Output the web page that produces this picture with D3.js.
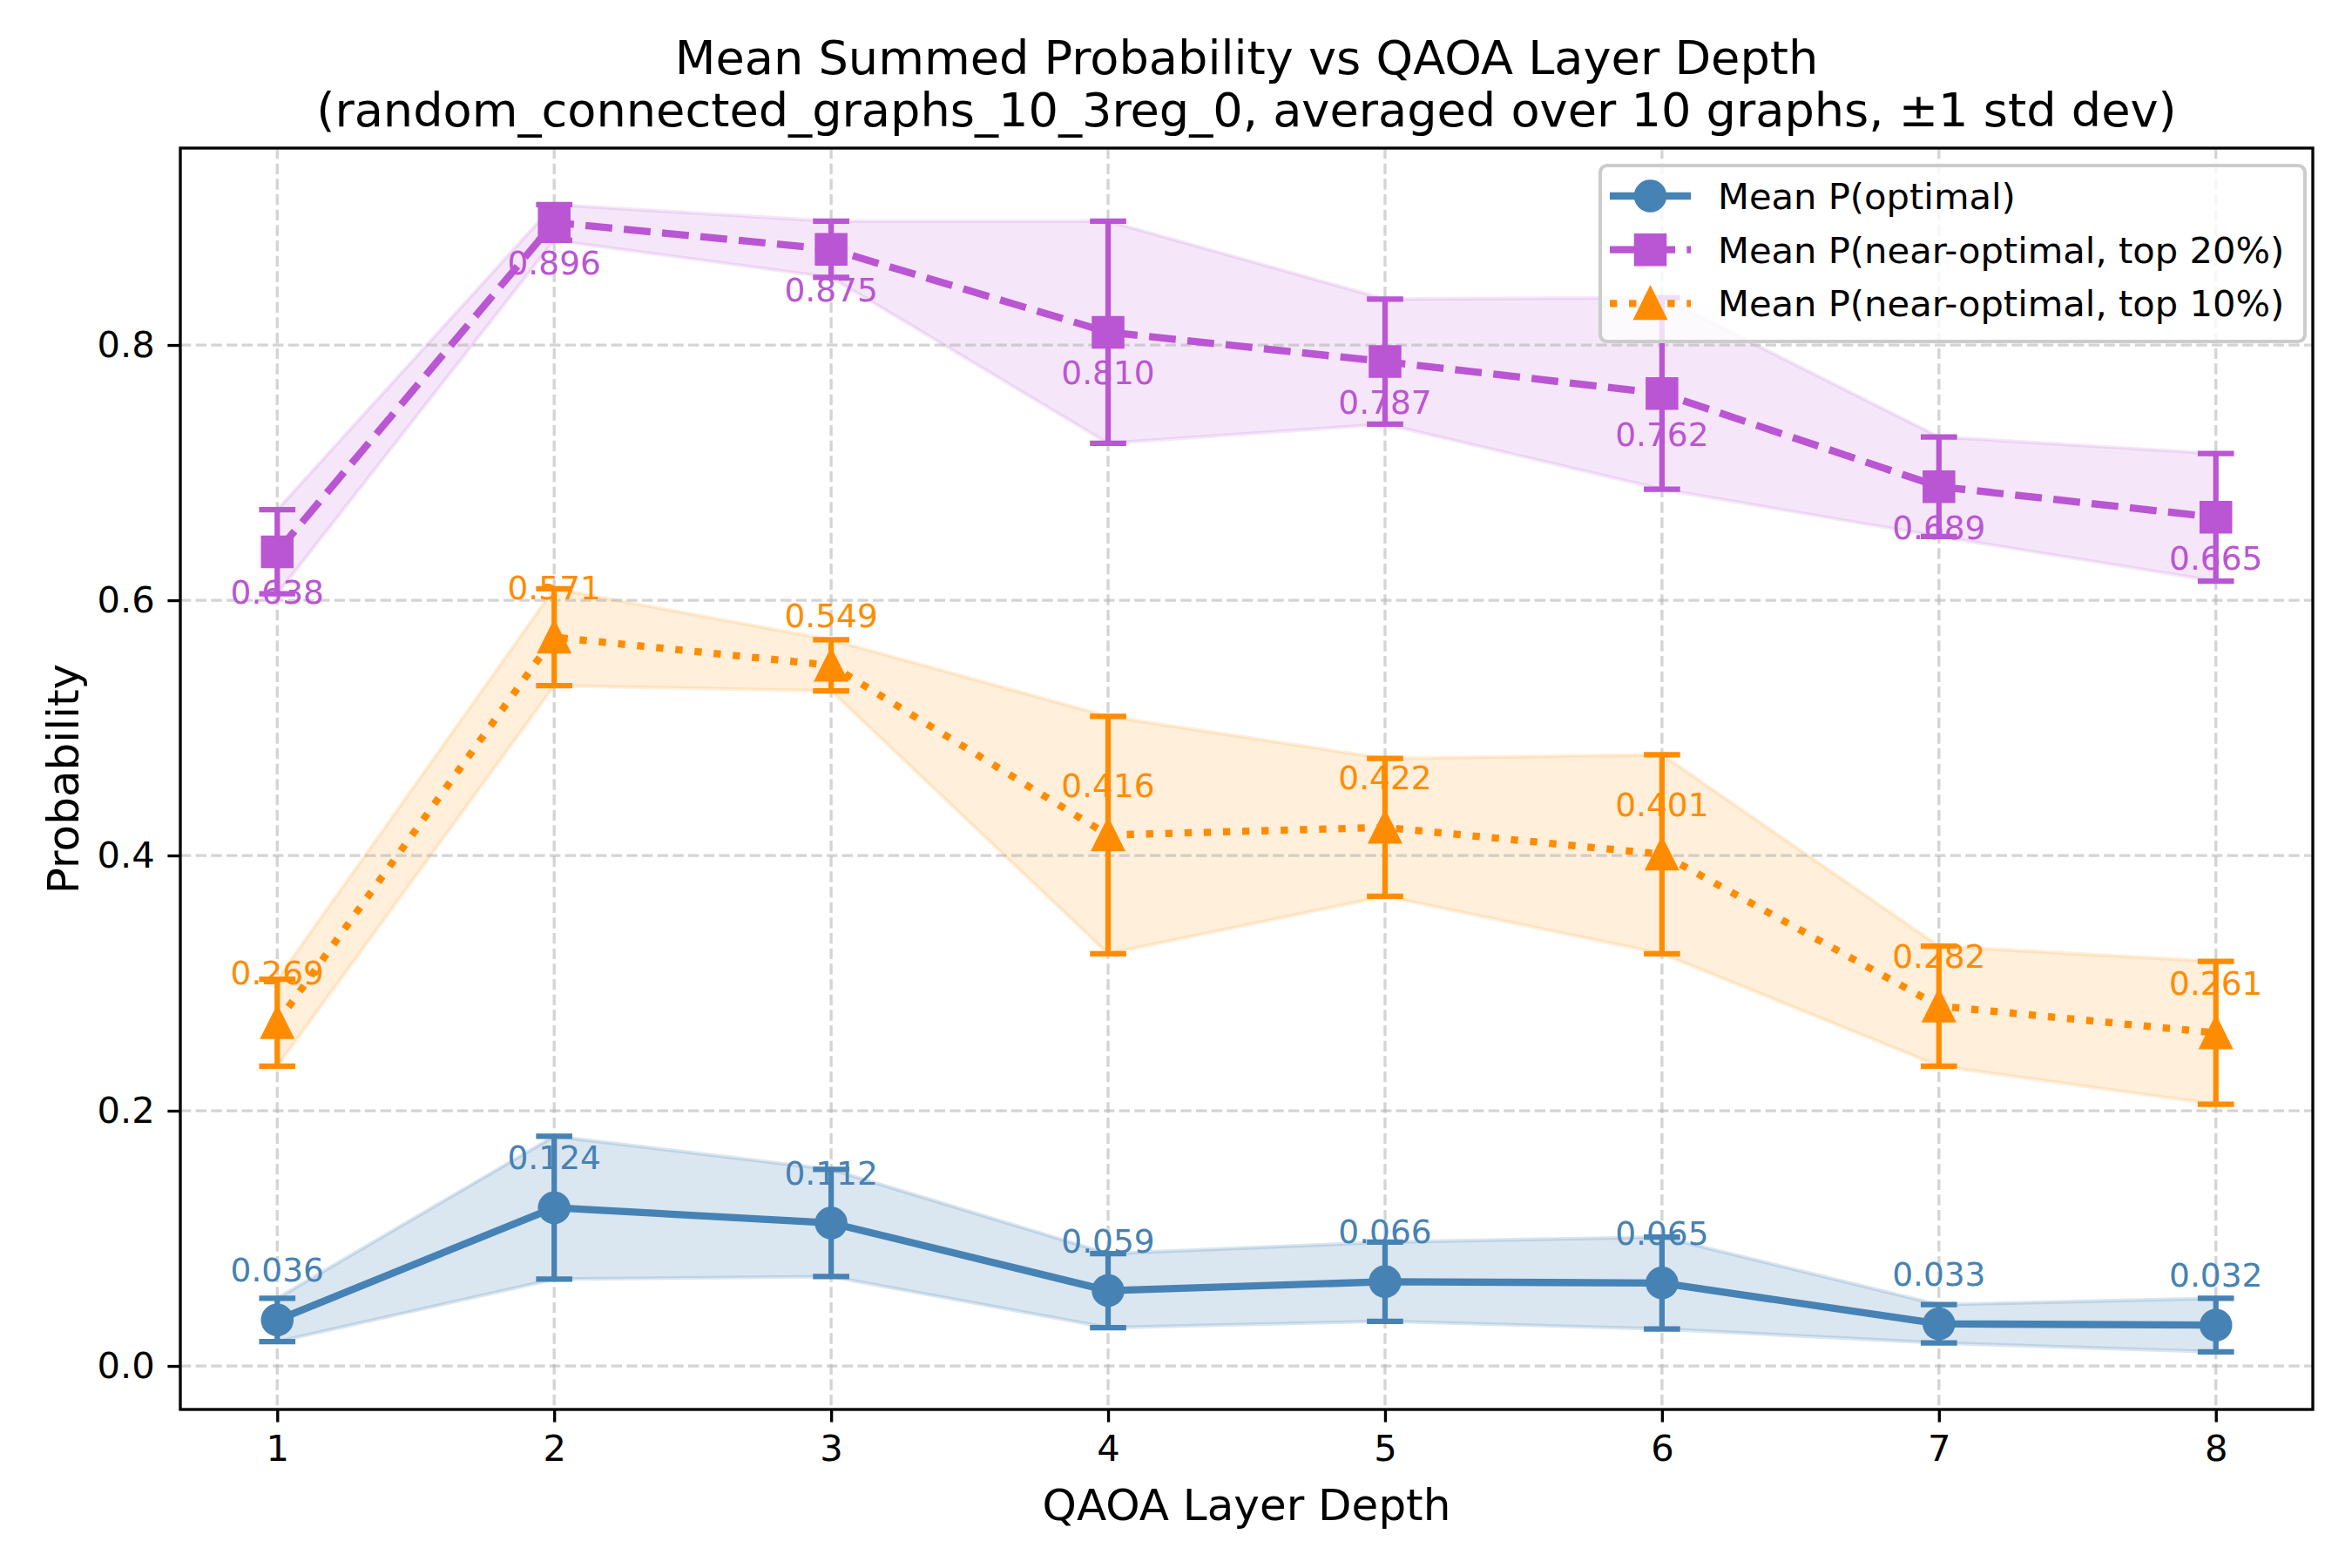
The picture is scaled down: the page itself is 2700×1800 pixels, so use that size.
<!DOCTYPE html>
<html>
<head>
<meta charset="utf-8">
<script src="https://cdn.jsdelivr.net/npm/d3@7"></script>
<style>
  body { margin: 0; background: #fff; }
  text { font-family: "DejaVu Sans", sans-serif; }
</style>
</head>
<body>
<div id="chart-area"></div>
<script>
// DATA
// ****
const depths = [1, 2, 3, 4, 5, 6, 7, 8]
const meanOptimal = [0.036, 0.124, 0.112, 0.059, 0.066, 0.065, 0.033, 0.032]
const stdOptimal = [0.017, 0.056, 0.042, 0.029, 0.031, 0.036, 0.015, 0.021]
const meanTop20 = [0.638, 0.896, 0.875, 0.810, 0.787, 0.762, 0.689, 0.665]
const stdTop20 = [0.033, 0.014, 0.022, 0.087, 0.049, 0.075, 0.039, 0.050]
const meanTop10 = [0.269, 0.571, 0.549, 0.416, 0.422, 0.401, 0.282, 0.261]
const stdTop10 = [0.034, 0.038, 0.020, 0.093, 0.054, 0.078, 0.047, 0.056]
const yTicks = [0.0, 0.2, 0.4, 0.6, 0.8]
const seriesNames = ["Mean P(optimal)", "Mean P(near-optimal, top 20%)", "Mean P(near-optimal, top 10%)"]

const PT = 300 / 72  // figure was 300 dpi

const series = [
  { name: seriesNames[0], mean: meanOptimal, std: stdOptimal, color: "#4682b4", fillAlpha: 0.2, dash: null, marker: "circle", labelBelow: false },
  { name: seriesNames[1], mean: meanTop20, std: stdTop20, color: "#ba55d3", fillAlpha: 0.14, dash: [3.7 * 2 * PT, 1.6 * 2 * PT], marker: "square", labelBelow: true },
  { name: seriesNames[2], mean: meanTop10, std: stdTop10, color: "#ff8c00", fillAlpha: 0.14, dash: [1 * 2 * PT, 1.65 * 2 * PT], marker: "triangle", labelBelow: false }
]

const W = 2700, H = 1800
const mLeft = 207, mRight = 2655, mTop = 170, mBottom = 1618

const svg = d3.select("#chart-area").append("svg").attr("width", W).attr("height", H)
svg.append("rect").attr("width", W).attr("height", H).attr("fill", "#fff")

// SCALES
const x = d3.scaleLinear().domain([0.65, 8.35]).range([mLeft, mRight])
const y = d3.scaleLinear().domain([-0.0341, 0.9543]).range([mBottom, mTop])

const lw = 2 * PT
const ms = 8 * PT

function markerPath(type, size) {
  if (type === "circle") return d3.symbol().type(d3.symbolCircle).size(Math.PI * (size / 2) ** 2)()
  if (type === "square") { const h = size / 2; return `M${-h},${-h}H${h}V${h}H${-h}Z` }
  const h = size / 2
  return `M0,${-h}L${h},${h}L${-h},${h}Z`
}

// FILL BANDS (below grid)
const area = d3.area()
  .x((d, i) => x(depths[i]))
  .y0(d => y(d[0]))
  .y1(d => y(d[1]))

series.forEach(s => {
  const band = s.mean.map((m, i) => [m - s.std[i], m + s.std[i]])
  svg.append("path")
    .datum(band)
    .attr("d", area)
    .attr("fill", s.color).attr("fill-opacity", s.fillAlpha)
    .attr("stroke", s.color).attr("stroke-opacity", s.fillAlpha).attr("stroke-width", PT)
})

// GRID
const grid = svg.append("g")
grid.selectAll(".gx").data(depths).enter().append("line")
  .attr("x1", d => x(d)).attr("x2", d => x(d)).attr("y1", mTop).attr("y2", mBottom)
grid.selectAll(".gy").data(yTicks).enter().append("line")
  .attr("x1", mLeft).attr("x2", mRight).attr("y1", d => y(d)).attr("y2", d => y(d))
grid.selectAll("line")
  .attr("stroke", "#b0b0b0").attr("stroke-opacity", 0.55)
  .attr("stroke-width", 0.8 * PT)
  .attr("stroke-dasharray", `${2.96 * PT},${1.28 * PT}`)

// LINES, ERROR BARS, MARKERS
const line = d3.line().x((d, i) => x(depths[i])).y(d => y(d))
const capHalf = 5 * PT

series.forEach(s => {
  const g = svg.append("g")
  g.append("path").datum(s.mean).attr("d", line)
    .attr("fill", "none").attr("stroke", s.color).attr("stroke-width", lw)
    .attr("stroke-dasharray", s.dash ? s.dash.join(",") : null)
    .attr("stroke-linecap", "butt").attr("stroke-linejoin", "round")

  const eb = g.selectAll(".eb").data(s.mean).enter().append("g")
  eb.append("line")
    .attr("x1", (d, i) => x(depths[i])).attr("x2", (d, i) => x(depths[i]))
    .attr("y1", (d, i) => y(d - s.std[i])).attr("y2", (d, i) => y(d + s.std[i]))
  eb.append("line")
    .attr("x1", (d, i) => x(depths[i]) - capHalf).attr("x2", (d, i) => x(depths[i]) + capHalf)
    .attr("y1", (d, i) => y(d + s.std[i])).attr("y2", (d, i) => y(d + s.std[i]))
  eb.append("line")
    .attr("x1", (d, i) => x(depths[i]) - capHalf).attr("x2", (d, i) => x(depths[i]) + capHalf)
    .attr("y1", (d, i) => y(d - s.std[i])).attr("y2", (d, i) => y(d - s.std[i]))
  eb.selectAll("line").attr("stroke", s.color).attr("stroke-width", 1.5 * PT)

  g.selectAll(".mk").data(s.mean).enter().append("path")
    .attr("d", markerPath(s.marker, ms))
    .attr("transform", (d, i) => `translate(${x(depths[i])},${y(d)})`)
    .attr("fill", s.color).attr("stroke", s.color).attr("stroke-width", PT)
})

// VALUE LABELS
series.forEach(s => {
  svg.append("g").selectAll("text").data(s.mean).enter().append("text")
    .attr("x", (d, i) => x(depths[i]))
    .attr("y", d => s.labelBelow ? y(d) + 60 : y(d) - 44)
    .attr("text-anchor", "middle")
    .attr("font-size", 9 * PT)
    .attr("fill", s.color)
    .text(d => d.toFixed(3))
})

// AXES
const xAxis = d3.axisBottom(x).tickValues(depths).tickSize(3.5 * PT).tickPadding(3.5 * PT).tickFormat(d3.format("d"))
const yAxis = d3.axisLeft(y).tickValues(yTicks).tickSize(3.5 * PT).tickPadding(3.5 * PT).tickFormat(d3.format(".1f"))

const gx = svg.append("g").attr("transform", `translate(0,${mBottom})`).call(xAxis)
const gy = svg.append("g").attr("transform", `translate(${mLeft},0)`).call(yAxis)
;[gx, gy].forEach(a => {
  a.select(".domain").remove()
  a.selectAll(".tick line").attr("stroke", "#000").attr("stroke-width", 0.8 * PT)
  a.selectAll(".tick text").attr("font-size", 10 * PT).attr("fill", "#000")
    .attr("font-family", "DejaVu Sans, sans-serif")
})

// spines
svg.append("rect")
  .attr("x", mLeft).attr("y", mTop).attr("width", mRight - mLeft).attr("height", mBottom - mTop)
  .attr("fill", "none").attr("stroke", "#000").attr("stroke-width", 0.8 * PT)

// LABELS AND TITLE
svg.append("text").attr("x", (mLeft + mRight) / 2).attr("y", 1745)
  .attr("text-anchor", "middle").attr("font-size", 12 * PT).text("QAOA Layer Depth")
svg.append("text").attr("transform", `translate(90,${(mTop + mBottom) / 2}) rotate(-90)`)
  .attr("text-anchor", "middle").attr("font-size", 12 * PT).text("Probability")

const titleLines = ["Mean Summed Probability vs QAOA Layer Depth",
  "(random_connected_graphs_10_3reg_0, averaged over 10 graphs, \u00b11 std dev)"]
svg.append("g").selectAll("text").data(titleLines).enter().append("text")
  .attr("x", (mLeft + mRight) / 2).attr("y", (d, i) => 85 + i * 60)
  .attr("text-anchor", "middle").attr("font-size", 13 * PT).text(d => d)

// LEGEND
const lg = svg.append("g")
lg.append("rect")
  .attr("x", 1837).attr("y", 190).attr("width", 2646 - 1837).attr("height", 392 - 190)
  .attr("rx", 8).attr("ry", 8)
  .attr("fill", "#fff").attr("fill-opacity", 0.8)
  .attr("stroke", "#cccccc").attr("stroke-width", PT)

const rows = lg.selectAll(".row").data(series).enter().append("g")
  .attr("transform", (d, i) => `translate(0,${225 + i * 61.7})`)
rows.append("line")
  .attr("x1", 1848).attr("x2", 1941).attr("y1", 0).attr("y2", 0)
  .attr("stroke", d => d.color).attr("stroke-width", lw)
  .attr("stroke-dasharray", d => d.dash ? d.dash.join(",") : null)
rows.append("path")
  .attr("d", d => markerPath(d.marker, ms))
  .attr("transform", "translate(1894.5,0)")
  .attr("fill", d => d.color).attr("stroke", d => d.color).attr("stroke-width", PT)
rows.append("text")
  .attr("x", 1972).attr("y", 15)
  .attr("font-size", 10 * PT).attr("fill", "#000")
  .text(d => d.name)
</script>
</body>
</html>
